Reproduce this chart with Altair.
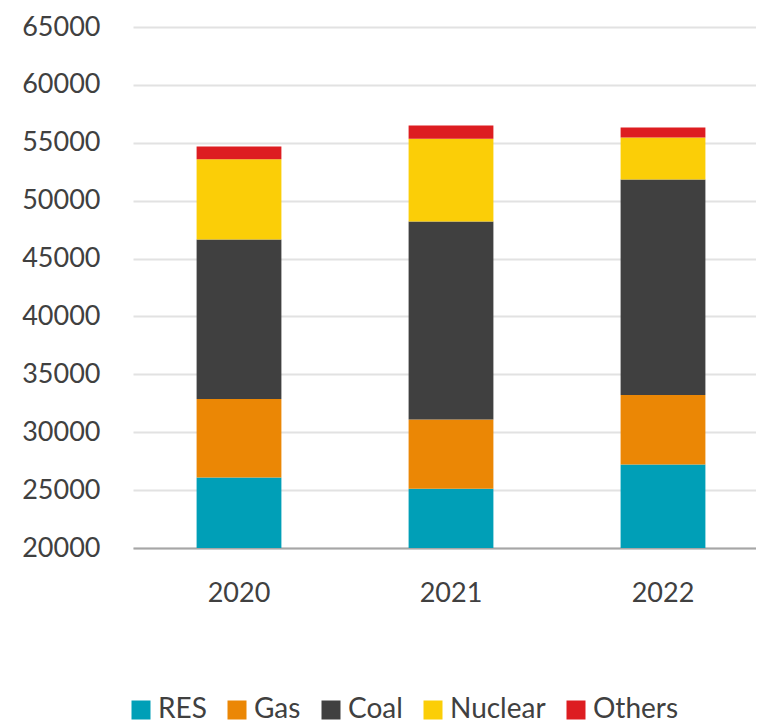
import altair as alt
import pandas as pd

years = ["2020", "2021", "2022"]
sources = ["RES", "Gas", "Coal", "Nuclear", "Others"]
colors = ["#009FB7", "#EB8705", "#404040", "#FBCE07", "#DD1D21"]
res = [26100, 25120, 27220]
gas = [6770, 5980, 6000]
coal = [13780, 17100, 18610]
nuclear = [6930, 7150, 3620]
others = [1100, 1140, 870]
y_ticks = [20000, 25000, 30000, 35000, 40000, 45000, 50000, 55000, 60000, 65000]

series = [res, gas, coal, nuclear, others]
rows = []
for si, (name, vals) in enumerate(zip(sources, series)):
    for yi, yr in enumerate(years):
        rows.append({"year": yr, "source": name, "value": vals[yi], "order": si})
df = pd.DataFrame(rows)

FONT = "Lato"
TXT = "#404040"

chart = alt.Chart(df).mark_bar(clip=True).encode(
    x=alt.X("year:N", title=None, sort=years,
            scale=alt.Scale(paddingInner=0.6, paddingOuter=0.3, range=[0, 636]),
            axis=alt.Axis(labelAngle=0, ticks=False, labelPadding=32, labelFontSize=27,
                          labelFont=FONT, labelColor=TXT, domainColor="#a6a6a6",
                          domainWidth=2, grid=False)),
    y=alt.Y("value:Q", title=None, stack="zero",
            scale=alt.Scale(domain=[20000, 65000], nice=False, zero=False),
            axis=alt.Axis(values=y_ticks, ticks=False, domain=False, labelPadding=33,
                          labelFontSize=27, labelFont=FONT, labelColor=TXT,
                          gridColor="#e2e2e2", gridWidth=2, format="d")),
    color=alt.Color("source:N", title=None,
                    scale=alt.Scale(domain=sources, range=colors),
                    legend=alt.Legend(orient="none", legendX=-6, legendY=669,
                                      direction="horizontal", gridAlign="none",
                                      symbolType="square", symbolSize=361,
                                      symbolStrokeWidth=0, labelFontSize=28,
                                      labelFont=FONT, labelColor=TXT,
                                      labelOffset=3, columnPadding=16, padding=0)),
    order=alt.Order("order:Q", sort="ascending"),
).properties(
    width=623, height=521,
    padding={"left": 125, "top": 19, "right": 0, "bottom": 176},
    autosize=alt.AutoSizeParams(type="none"),
).configure_view(stroke=None)

chart.save("out.html", embed_options={"renderer": "svg", "actions": False})
